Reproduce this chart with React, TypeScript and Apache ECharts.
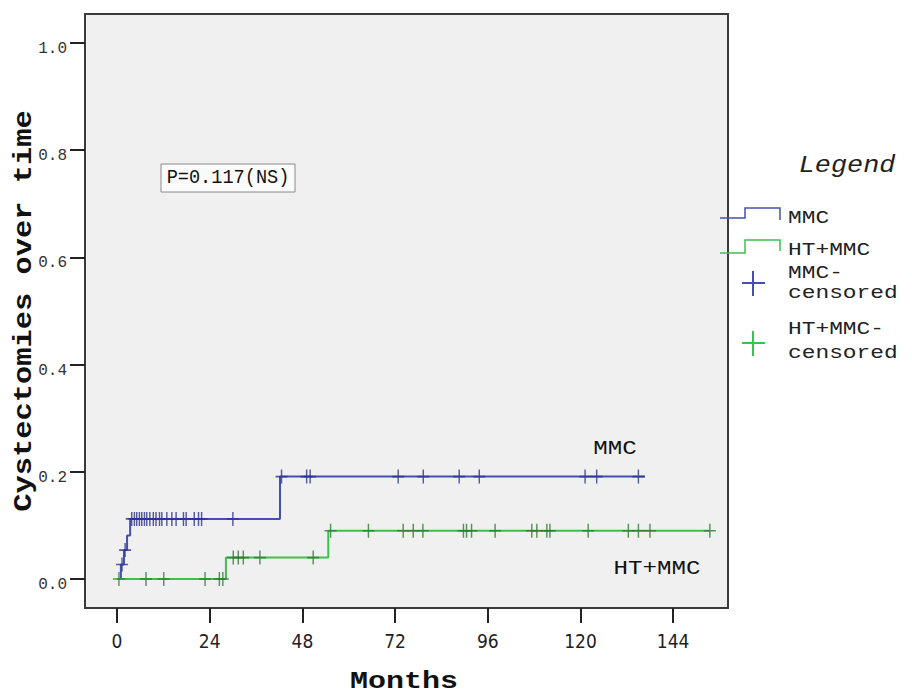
import React, { useEffect, useRef } from "react";
import * as echarts from "echarts";

// Axis ticks
const xTicks = [0, 24, 48, 72, 96, 120, 144];
const yTicks = [0, 0.2, 0.4, 0.6, 0.8, 1.0];

// Kaplan-Meier step points (time in months, cumulative cystectomy proportion)
const mmcTimes = [0, 1.0, 1.8, 2.6, 3.4, 42.2, 136.7];
const mmcValues = [0, 0.027, 0.054, 0.081, 0.112, 0.191, 0.191];
const htTimes = [0, 28.2, 54.7, 153.5];
const htValues = [0, 0.04, 0.09, 0.09];

// Censored observations (months)
const mmcCensored = [1.3, 2.1, 3.8, 4.5, 5.1, 5.8, 6.4, 7.1, 7.7, 8.5, 9.4, 10.1, 11.0, 11.6, 12.9, 14.2, 15.3, 17.2, 17.9, 20.0, 21.1, 21.9, 30.0, 42.6, 49.1, 50.0, 72.8, 79.3, 88.6, 93.8, 121.2, 124.2, 135.0];
const htCensored = [0.5, 7.5, 12.1, 22.8, 26.5, 27.4, 30.1, 31.4, 32.7, 37.0, 50.8, 55.3, 65.1, 74.1, 76.7, 79.2, 89.7, 90.5, 91.8, 97.9, 107.4, 108.7, 111.3, 112.1, 122.0, 132.4, 135.0, 138.0, 153.5];

const seriesNames = ["MMC", "HT+MMC"];
const pText = "P=0.117(NS)";
const xTitle = "Months";
const yTitle = "Cystectomies over time";

const BLUE = "#4450b0";
const BLUE_DARK = "#2c348c";
const GREEN = "#3fbf4f";
const GREEN_DARK = "#2e7a34";
const MONO = "'Liberation Mono', 'DejaVu Sans Mono', monospace";
const NARROW = "'Liberation Sans Narrow', 'DejaVu Sans Condensed', 'Liberation Sans', sans-serif";

const PLUS = "path://M44,0H56V44H100V56H56V100H44V56H0V44H44Z";

function valueAt(times: number[], values: number[], t: number) {
  let v = values[0];
  for (let i = 0; i < times.length; i++) if (times[i] <= t) v = values[i];
  return v;
}

export default function App() {
  const ref = useRef<HTMLDivElement>(null);
  useEffect(() => {
    if (!ref.current) return;
    const chart = echarts.init(ref.current, undefined, { renderer: "svg" });
    const mmcLine = mmcTimes.map((t, i) => [t, mmcValues[i]]);
    const htLine = htTimes.map((t, i) => [t, htValues[i]]);
    const mmcC = mmcCensored.map((t) => [t, valueAt(mmcTimes, mmcValues, t)]);
    const htC = htCensored.map((t) => [t, valueAt(htTimes, htValues, t)]);

    const legendText = (x: number, y: number, text: string) => ({
      type: "text", x, y, scaleX: 1.27,
      style: { text, fontFamily: MONO, fontSize: 18, fill: "#222", verticalAlign: "middle", align: "left" },
    });

    chart.setOption({
      animation: false,
      backgroundColor: "#ffffff",
      grid: {
        left: 85, top: 14, width: 643, height: 594,
        show: true, backgroundColor: "#f0f0f0", borderColor: "#3a3a3a", borderWidth: 2,
      },
      xAxis: {
        type: "value", min: -8.29, max: 158.2,
        axisLine: { show: false, onZero: false },
        splitLine: { show: false },
        axisTick: { show: true, customValues: xTicks, length: 15, lineStyle: { color: "#222", width: 2 } },
        axisLabel: { customValues: xTicks, margin: 23, fontFamily: NARROW, fontSize: 19, color: "#222" },
      },
      yAxis: {
        type: "value", min: -0.0541, max: 1.054,
        axisLine: { show: false, onZero: false },
        splitLine: { show: false },
        axisTick: { show: true, customValues: yTicks, length: 15, lineStyle: { color: "#222", width: 2 } },
        axisLabel: {
          customValues: yTicks, margin: 18, fontFamily: MONO, fontSize: 16, color: "#333",
          verticalAlign: "top", padding: [-2, 0, 0, 0],
          formatter: (v: number) => v.toFixed(1),
        },
      },
      series: [
        {
          name: seriesNames[0], type: "line", step: "end", data: mmcLine, symbol: "none",
          lineStyle: { color: BLUE, width: 2 }, z: 2,
        },
        {
          name: seriesNames[1], type: "line", step: "end", data: htLine, symbol: "none",
          lineStyle: { color: GREEN, width: 2 }, z: 2,
        },
        {
          name: seriesNames[0] + "-censored", type: "scatter", data: mmcC, symbol: PLUS,
          symbolSize: [12, 14], itemStyle: { color: BLUE_DARK }, z: 3,
        },
        {
          name: seriesNames[1] + "-censored", type: "scatter", data: htC, symbol: PLUS,
          symbolSize: [12, 14], itemStyle: { color: GREEN_DARK }, z: 3,
        },
      ],
      graphic: [
        // axis titles
        { type: "text", x: 404, y: 681, scaleX: 1.25, style: { text: xTitle, fontFamily: MONO, fontWeight: "bold", fontSize: 24, fill: "#111", align: "center", verticalAlign: "middle" } },
        { type: "text", x: 24, y: 311, rotation: Math.PI / 2, scaleX: 1.17, style: { text: yTitle, fontFamily: MONO, fontWeight: "bold", fontSize: 26, fill: "#111", align: "center", verticalAlign: "middle" } },
        // P-value box
        { type: "rect", shape: { x: 161, y: 164, width: 134, height: 28 }, style: { fill: "#fbfbfb", stroke: "#8a8a8a", lineWidth: 1 }, z: 10 },
        { type: "text", x: 228, y: 178, scaleX: 0.93, style: { text: pText, fontFamily: MONO, fontSize: 20, fill: "#111", align: "center", verticalAlign: "middle" }, z: 11 },
        // curve labels
        { type: "text", x: 615, y: 448, scaleX: 1.15, style: { text: seriesNames[0], fontFamily: MONO, fontSize: 21, fill: "#111", align: "center", verticalAlign: "middle" }, z: 11 },
        { type: "text", x: 657, y: 568, scaleX: 1.15, style: { text: seriesNames[1], fontFamily: MONO, fontSize: 21, fill: "#111", align: "center", verticalAlign: "middle" }, z: 11 },
        // legend
        { type: "text", x: 847, y: 166, scaleX: 1.12, style: { text: "Legend", fontFamily: MONO, fontStyle: "italic", fontSize: 24, fill: "#222", align: "center", verticalAlign: "middle" } },
        { type: "polyline", shape: { points: [[720, 218], [745, 218], [745, 208], [780, 208], [780, 220]] }, style: { stroke: BLUE, lineWidth: 1.5, fill: "none" } },
        legendText(788, 218, seriesNames[0]),
        { type: "polyline", shape: { points: [[720, 253], [745, 253], [745, 240], [780, 240], [780, 251]] }, style: { stroke: GREEN, lineWidth: 1.5, fill: "none" } },
        legendText(788, 250, seriesNames[1]),
        { type: "line", shape: { x1: 753, y1: 271, x2: 753, y2: 296 }, style: { stroke: BLUE, lineWidth: 2 } },
        { type: "line", shape: { x1: 742, y1: 283, x2: 765, y2: 283 }, style: { stroke: BLUE, lineWidth: 2 } },
        legendText(788, 273, seriesNames[0] + "-"),
        legendText(788, 293, "censored"),
        { type: "line", shape: { x1: 753, y1: 331, x2: 753, y2: 356 }, style: { stroke: GREEN, lineWidth: 2 } },
        { type: "line", shape: { x1: 742, y1: 343, x2: 765, y2: 343 }, style: { stroke: GREEN, lineWidth: 2 } },
        legendText(788, 329, seriesNames[1] + "-"),
        legendText(788, 353, "censored"),
      ],
    });
    return () => chart.dispose();
  }, []);
  return <div ref={ref} style={{ position: "absolute", left: 0, top: 0, width: 912, height: 697 }} />;
}
